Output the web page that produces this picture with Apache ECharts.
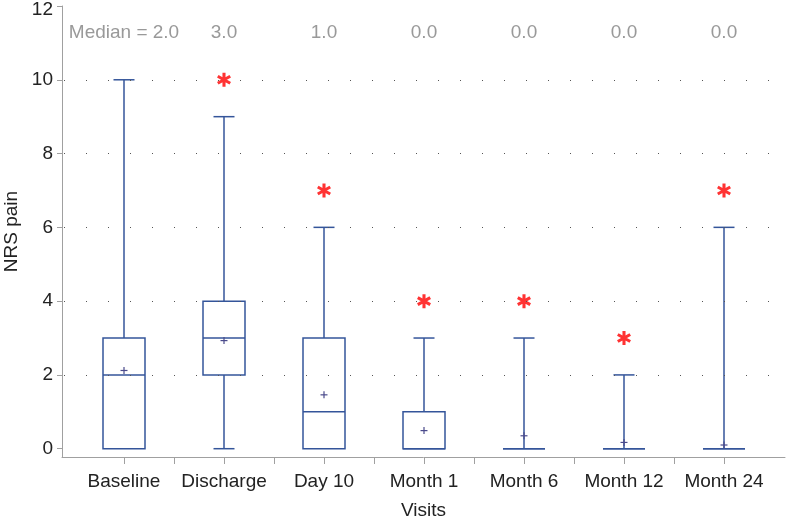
<!DOCTYPE html>
<html>
<head>
<meta charset="utf-8">
<script src="https://cdn.jsdelivr.net/npm/echarts@6/dist/echarts.min.js"></script>
<style>html,body{margin:0;padding:0;background:#fff;}#c{width:787px;height:522px;}</style>
</head>
<body>
<div id="c"></div>
<script>
const categories = ['Baseline','Discharge','Day 10','Month 1','Month 6','Month 12','Month 24'];
const minVals    = [0, 0, 0, 0, 0, 0, 0];
const q1Vals     = [0, 2, 0, 0, 0, 0, 0];
const medianVals = [2, 3, 1, 0, 0, 0, 0];
const q3Vals     = [3, 4, 3, 1, 0, 0, 0];
const maxVals    = [10, 9, 6, 3, 3, 2, 6];
const meanVals   = [2.12, 2.93, 1.46, 0.49, 0.35, 0.17, 0.1];
const outlierCat = [1, 2, 3, 4, 5, 6];
const outlierVal = [10, 7, 4, 4, 3, 7];
const medianLabels = ['Median = 2.0','3.0','1.0','0.0','0.0','0.0','0.0'];
const yTicks = [0, 2, 4, 6, 8, 10, 12];
const gridVals = [2, 4, 6, 8, 10];

const FONT = '"Liberation Sans", Arial, sans-serif';
const BOX = '#34559a';
const MEAN = '#4b4b8c';

function asteriskPath(){
  const L = 7, w = 1.5;
  let p = '';
  [90, 30, 150].forEach(a => {
    const r = a * Math.PI / 180;
    const dx = Math.cos(r), dy = Math.sin(r), nx = -dy, ny = dx;
    const pts = [[L*dx + w*nx, L*dy + w*ny],[L*dx - w*nx, L*dy - w*ny],[-L*dx - w*nx, -L*dy - w*ny],[-L*dx + w*nx, -L*dy + w*ny]];
    p += 'M' + pts.map(q => q[0].toFixed(2) + ',' + q[1].toFixed(2)).join('L') + 'Z';
  });
  return 'path://' + p;
}

const boxData = categories.map((c, i) => [i, minVals[i], q1Vals[i], medianVals[i], q3Vals[i], maxVals[i], meanVals[i]]);
const outData = outlierCat.map((c, i) => [c, outlierVal[i]]);
const labelData = categories.map((c, i) => [i, 11.27, medianLabels[i]]);
const yMax = yTicks[yTicks.length - 1];

const chart = echarts.init(document.getElementById('c'), null, {renderer: 'canvas'});
chart.setOption({
  animation: false,
  backgroundColor: '#fff',
  grid: {left: 62, right: 2, top: 6, bottom: 65, containLabel: false, outerBoundsMode: 'none'},
  xAxis: {
    type: 'value', min: -0.62, max: 6.61,
    name: 'Visits', nameLocation: 'middle', nameGap: 44,
    nameTextStyle: {fontFamily: FONT, fontSize: 19, color: '#222'},
    axisLine: {show: true, onZero: false, lineStyle: {color: '#a0a0a0', width: 1}},
    axisTick: {show: true, length: 7, lineStyle: {color: '#a0a0a0'}, customValues: [0,0.5,1,1.5,2,2.5,3,3.5,4,4.5,5,5.5,6]},
    axisLabel: {customValues: [0,1,2,3,4,5,6], formatter: v => categories[Math.round(v)], margin: 15, fontFamily: FONT, fontSize: 19, color: '#222'},
    splitLine: {show: false}
  },
  yAxis: {
    type: 'value', min: -0.225, max: yMax,
    name: 'NRS pain', nameLocation: 'middle', nameGap: 39,
    nameTextStyle: {fontFamily: FONT, fontSize: 19, color: '#222'},
    axisLine: {show: true, onZero: false, lineStyle: {color: '#a0a0a0', width: 1}},
    axisTick: {show: true, length: 5, lineStyle: {color: '#a0a0a0'}, customValues: yTicks},
    axisLabel: {
      customValues: yTicks, margin: 9, fontFamily: FONT, fontSize: 19, color: '#222',
      formatter: v => v === yMax ? '{t|' + v + '}' : String(v),
      rich: {t: {fontFamily: FONT, fontSize: 19, color: '#222', padding: [7, 0, 0, 0]}}
    },
    splitLine: {show: false}
  },
  series: [
    {
      type: 'custom',
      data: boxData,
      encode: {x: 0, y: [1, 2, 3, 4, 5]},
      silent: true,
      z: 3,
      renderItem: function(params, api){
        const x = api.value(0);
        const vmin = api.value(1), q1 = api.value(2), med = api.value(3), q3 = api.value(4), vmax = api.value(5), mean = api.value(6);
        const px = api.coord([x, 0])[0];
        const Y = v => api.coord([x, v])[1];
        const bw = api.size([0.42, 0])[0];
        const half = bw / 2, cap = bw / 4;
        const st = {stroke: BOX, lineWidth: 1.5, fill: 'none'};
        const ch = [];
        const line = (x1, y1, x2, y2, s) => ({type: 'line', shape: {x1, y1, x2, y2}, style: s || st});
        if (vmax > q3) { ch.push(line(px, Y(q3), px, Y(vmax))); ch.push(line(px - cap, Y(vmax), px + cap, Y(vmax))); }
        if (vmin < q1) { ch.push(line(px, Y(q1), px, Y(vmin))); ch.push(line(px - cap, Y(vmin), px + cap, Y(vmin))); }
        if (q3 > q1) {
          ch.push({type: 'rect', shape: {x: px - half, y: Y(q3), width: bw, height: Y(q1) - Y(q3)}, style: st});
        } else {
          ch.push(line(px - half, Y(q1), px + half, Y(q1)));
        }
        ch.push(line(px - half, Y(med), px + half, Y(med)));
        const my = Y(mean);
        const ms = {stroke: MEAN, lineWidth: 1.2};
        ch.push(line(px - 3.5, my, px + 3.5, my, ms));
        ch.push(line(px, my - 3.5, px, my + 3.5, ms));
        return {type: 'group', children: ch};
      },
      markLine: {
        silent: true, symbol: 'none', label: {show: false},
        lineStyle: {color: '#555', width: 1.2, type: [1, 21], dashOffset: 20},
        data: gridVals.map(v => ({yAxis: v}))
      }
    },
    {
      type: 'scatter',
      data: outData,
      symbol: asteriskPath(),
      symbolSize: 14,
      itemStyle: {color: '#ff0000'},
      z: 4
    },
    {
      type: 'scatter',
      data: labelData,
      symbolSize: 0,
      label: {show: true, position: 'inside', formatter: p => p.data[2], fontFamily: FONT, fontSize: 19, color: '#808080'},
      z: 4
    }
  ]
});
</script>
</body>
</html>
